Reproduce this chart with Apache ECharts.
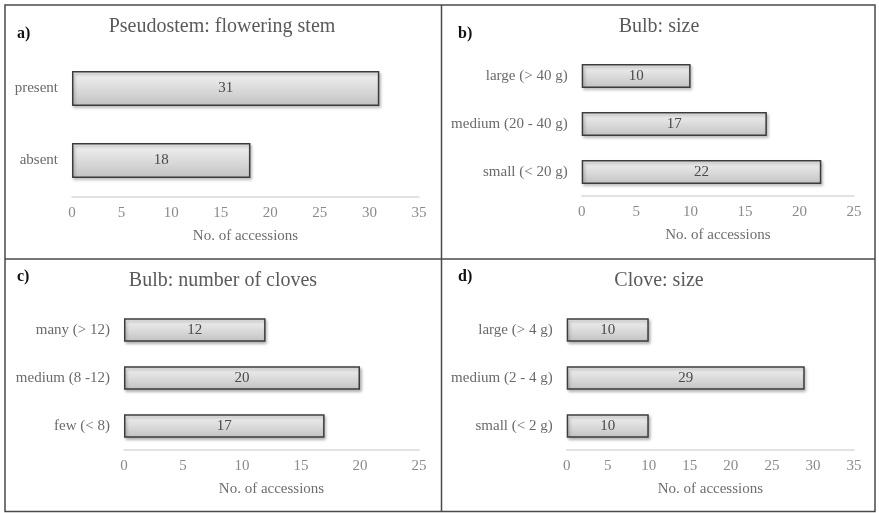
<!DOCTYPE html>
<html>
<head>
<meta charset="utf-8">
<script src="https://cdn.jsdelivr.net/npm/echarts@6/dist/echarts.min.js"></script>
<style>
  html, body { margin: 0; padding: 0; background: #fff; }
  #chart { width: 879px; height: 513px; }
</style>
</head>
<body>
<div id="chart"></div>
<script>
// Panel a) Pseudostem: flowering stem
const stemCategories = ['present', 'absent'];
const stemValues = [31, 18];
// Panel b) Bulb: size
const bulbSizeCategories = ['large (> 40 g)', 'medium (20 - 40 g)', 'small (< 20 g)'];
const bulbSizeValues = [10, 17, 22];
// Panel c) Bulb: number of cloves
const cloveCountCategories = ['many (> 12)', 'medium (8 -12)', 'few (< 8)'];
const cloveCountValues = [12, 20, 17];
// Panel d) Clove: size
const cloveSizeCategories = ['large (> 4 g)', 'medium (2 - 4 g)', 'small (< 2 g)'];
const cloveSizeValues = [10, 29, 10];

const panelTitles = ['Pseudostem: flowering stem', 'Bulb: size', 'Bulb: number of cloves', 'Clove: size'];
const panelLetters = ['a)', 'b)', 'c)', 'd)'];
const axisMax = [35, 25, 25, 35];
const axisName = 'No. of accessions';

const FONT = "'Liberation Serif', 'Times New Roman', serif";

const panels = [
  { cats: stemCategories, vals: stemValues, grid: { left: 72, top: 52.5, width: 347, height: 144 }, barWidth: 35 },
  { cats: bulbSizeCategories, vals: bulbSizeValues, grid: { left: 581.7, top: 52, width: 272.3, height: 144 }, barWidth: 24 },
  { cats: cloveCountCategories, vals: cloveCountValues, grid: { left: 124, top: 306, width: 295, height: 144 }, barWidth: 23.5 },
  { cats: cloveSizeCategories, vals: cloveSizeValues, grid: { left: 566.7, top: 306, width: 287.3, height: 144 }, barWidth: 23.5 }
];

// title centers and letter positions per panel
const titlePos = [
  { cx: 222, cy: 27, lx: 17, ly: 34 },
  { cx: 659, cy: 27, lx: 458, ly: 34 },
  { cx: 223, cy: 281, lx: 17, ly: 277 },
  { cx: 659, cy: 281, lx: 458, ly: 277 }
];

const barFill = new echarts.graphic.LinearGradient(0, 0, 0, 1, [
  { offset: 0, color: '#f4f4f4' },
  { offset: 1, color: '#c2c2c2' }
]);

const option = {
  animation: false,
  backgroundColor: '#ffffff',
  grid: panels.map(p => Object.assign({ containLabel: false }, p.grid)),
  xAxis: panels.map((p, i) => ({
    type: 'value',
    gridIndex: i,
    min: 0,
    max: axisMax[i],
    interval: 5,
    name: axisName,
    nameLocation: 'middle',
    nameGap: 32,
    nameTextStyle: { fontFamily: FONT, fontSize: 15, color: '#6e6e6e' },
    axisLine: { show: true, lineStyle: { color: '#d9d9d9', width: 1.5 } },
    axisTick: { show: false },
    splitLine: { show: false },
    axisLabel: { margin: 9, fontFamily: FONT, fontSize: 15, color: '#8a8a8a' }
  })),
  yAxis: panels.map((p, i) => ({
    type: 'category',
    gridIndex: i,
    data: p.cats,
    inverse: true,
    axisLine: { show: false },
    axisTick: { show: false },
    splitLine: { show: false },
    axisLabel: { margin: 14, fontFamily: FONT, fontSize: 15, color: '#6a6a6a' }
  })),
  series: panels.map((p, i) => ({
    type: 'bar',
    xAxisIndex: i,
    yAxisIndex: i,
    data: p.vals,
    barWidth: p.barWidth,
    itemStyle: {
      color: barFill,
      borderColor: '#3c3c3c',
      borderWidth: 1.5,
      shadowColor: 'rgba(0,0,0,0.28)',
      shadowBlur: 3,
      shadowOffsetX: 1.5,
      shadowOffsetY: 2
    },
    label: {
      show: true,
      position: 'inside',
      fontFamily: FONT,
      fontSize: 15,
      color: '#4a4a4a'
    }
  })),
  graphic: [
    // outer frame and panel dividers
    { type: 'rect', shape: { x: 5, y: 5, width: 870, height: 506.5 }, style: { fill: 'none', stroke: '#4a4a4a', lineWidth: 1.5 }, z: 10 },
    { type: 'line', shape: { x1: 441.5, y1: 5, x2: 441.5, y2: 511.5 }, style: { stroke: '#4a4a4a', lineWidth: 1.5 }, z: 10 },
    { type: 'line', shape: { x1: 5, y1: 259, x2: 875, y2: 259 }, style: { stroke: '#4a4a4a', lineWidth: 1.5 }, z: 10 }
  ].concat(titlePos.map((t, i) => ({
    type: 'text',
    x: t.cx, y: t.cy,
    style: {
      text: panelTitles[i],
      fontFamily: FONT, fontSize: 20, fill: '#5a5a5a',
      textAlign: 'center', textVerticalAlign: 'middle'
    }
  }))).concat(titlePos.map((t, i) => ({
    type: 'text',
    x: t.lx, y: t.ly,
    style: {
      text: panelLetters[i],
      fontFamily: FONT, fontSize: 16, fontWeight: 'bold', fill: '#111',
      textAlign: 'left', textVerticalAlign: 'middle'
    }
  })))
};

const chart = echarts.init(document.getElementById('chart'), null, { renderer: 'canvas' });
chart.setOption(option);
</script>
</body>
</html>
